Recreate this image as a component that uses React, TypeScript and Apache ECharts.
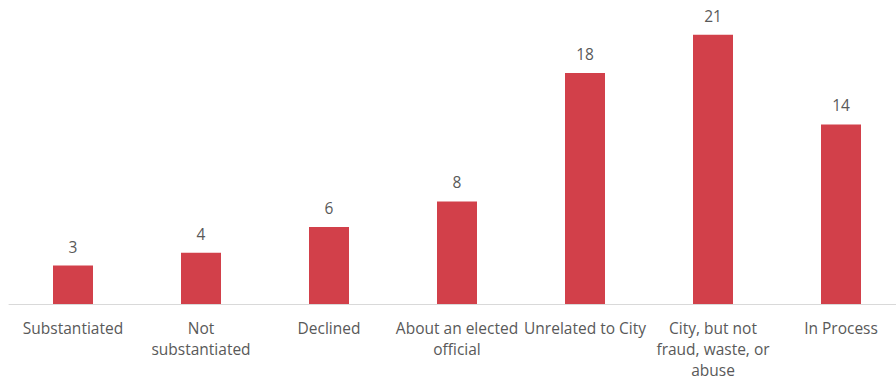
import React, { useEffect, useRef } from "react";
import * as echarts from "echarts";

const categories = [
  "Substantiated",
  "Not\nsubstantiated",
  "Declined",
  "About an elected\nofficial",
  "Unrelated to City",
  "City, but not\nfraud, waste, or\nabuse",
  "In Process",
];
const values = [3, 4, 6, 8, 18, 21, 14];

export default function App() {
  const ref = useRef<HTMLDivElement>(null);
  useEffect(() => {
    if (!ref.current) return;
    const chart = echarts.init(ref.current, undefined, { renderer: "svg" });
    const font = "'Open Sans', 'Noto Sans', sans-serif";
    chart.setOption({
      animation: false,
      grid: { left: 9, right: 0, top: 0, bottom: 83, containLabel: false },
      xAxis: {
        type: "category",
        data: categories,
        axisLine: { show: true, lineStyle: { color: "#d9d9d9", width: 1 } },
        axisTick: { show: false },
        axisLabel: {
          color: "#595959",
          fontSize: 15.5,
          fontFamily: font,
          lineHeight: 21,
          margin: 13,
          interval: 0,
        },
      },
      yAxis: {
        type: "value",
        min: 0,
        max: 23.7,
        show: false,
        splitLine: { show: false },
      },
      series: [
        {
          type: "bar",
          data: values,
          barWidth: 40,
          itemStyle: { color: "#d2404a" },
          label: {
            show: true,
            position: "top",
            distance: 11,
            color: "#595959",
            fontSize: 15.5,
            fontFamily: font,
          },
        },
      ],
    });
    return () => chart.dispose();
  }, []);
  return (
    <div style={{ width: 896, height: 387, position: "absolute", left: 0, top: 0, overflow: "hidden" }}>
      <div ref={ref} style={{ width: 905, height: 387 }} />
    </div>
  );
}
